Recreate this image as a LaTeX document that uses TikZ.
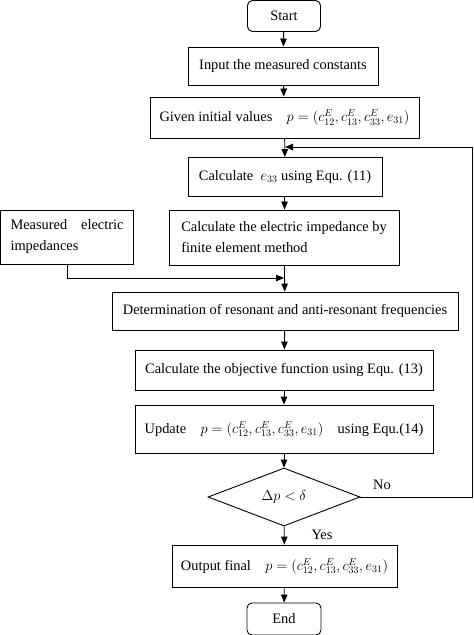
\documentclass[tikz,border=0pt]{standalone}
\usepackage{fontspec}
\setmainfont{Liberation Serif}
\usepackage{tikz}
\usetikzlibrary{arrows.meta}
\usetikzlibrary{shapes.geometric}

\begin{document}
\begin{tikzpicture}[x=1pt, y=-1pt,
            every node/.style={font=\fontsize{14.4}{21}\selectfont},
            block/.style={draw, rectangle, line width=0.9pt, inner sep=0pt, align=center},
            terminal/.style={block, rounded corners=5pt, minimum width=73pt, minimum height=31pt},
            decision/.style={draw, diamond, line width=0.9pt, inner sep=0pt, minimum width=152pt, minimum height=58pt},
            flow/.style={line width=0.9pt, -{Triangle[length=8pt,width=6.5pt]}}]
            \useasboundingbox (0,0) rectangle (474,635);
            \node[terminal] (start) at (284,16) {Start};
            \node[block, minimum width=190pt, minimum height=38pt] (input) at (283,66) {Input the measured constants};
            \node[block, minimum width=269pt, minimum height=41pt] (given) at (284.5,117.5)
                {Given initial values\quad $p=(c_{12}^{E},c_{13}^{E},c_{33}^{E},e_{31})$};
            \node[block, minimum width=194pt, minimum height=39pt] (calce) at (285,177)
                {Calculate\ \ $e_{33}$ using Equ. (11)};
            \node[block, minimum width=230pt, minimum height=55pt, align=left] (imped) at (284,237.5)
                {Calculate the electric impedance by\\finite element method};
            \node[block, minimum width=133pt, minimum height=54pt, text width=113pt, align=justify] (meas) at (67,237)
                {Measured electric impedances};
            \node[block, minimum width=346pt, minimum height=38pt] (reson) at (285,311)
                {Determination of resonant and anti-resonant frequencies};
            \node[block, minimum width=298pt, minimum height=40pt] (object) at (284,370)
                {Calculate the objective function using Equ. (13)};
            \node[block, minimum width=298pt, minimum height=48pt] (update) at (284,429)
                {Update\quad $p=(c_{12}^{E},c_{13}^{E},c_{33}^{E},e_{31})$\quad using Equ.(14)};
            \node[decision] (check) at (284,497) {$\Delta p<\delta$};
            \node[block, minimum width=225pt, minimum height=42pt] (output) at (284.5,566)
                {Output final\quad $p=(c_{12}^{E},c_{13}^{E},c_{33}^{E},e_{31})$};
            \node[terminal, minimum width=74pt, minimum height=32pt] (stop) at (284,619) {End};
            \coordinate (back) at (472,497);
            \coordinate (join) at (284,278);
            \coordinate (loop) at (285,147);
            \draw[flow] (start) -- (input);
            \draw[flow] (input) -- (given);
            \draw[flow] (given) -- (calce);
            \draw[flow] (calce) -- (imped);
            \draw[flow] (imped) -- (reson);
            \draw[flow] (meas.south) |- (join);
            \draw[flow] (reson) -- (object);
            \draw[flow] (object) -- (update);
            \draw[flow] (update) -- (check);
            \draw[flow] (check) -- (output);
            \draw[flow] (output) -- (stop);
            \draw[flow] (check.east) -- (back) -- (back |- loop) -- (loop);
            \node at (382,485) {No};
            \node at (322,535) {Yes};
        \end{tikzpicture}
\end{document}
